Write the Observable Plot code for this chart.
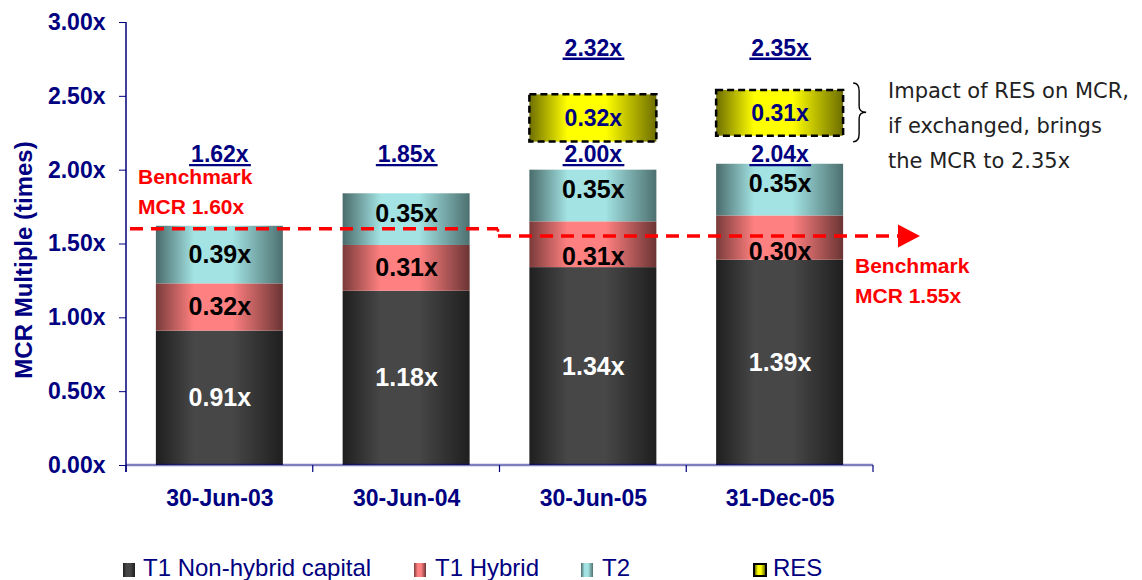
<!DOCTYPE html>
<html>
<head>
<meta charset="utf-8">
<script src="https://cdn.jsdelivr.net/npm/d3@7"></script>
<script src="https://cdn.jsdelivr.net/npm/@observablehq/plot@0.6"></script>
<style>
  html, body { margin: 0; padding: 0; background: #fff; }
  #wrap { position: relative; width: 1142px; height: 580px; overflow: hidden; font-family: "Liberation Sans", Arial, sans-serif; }
  #legend { position: absolute; left: 0; top: 545px; width: 1142px; height: 35px; }
  #legend .sw { position: absolute; top: 18px; height: 14px; box-sizing: border-box; }
  #legend .lab { position: absolute; top: 11px; font-size: 24px; line-height: 24px; color: #000080; white-space: nowrap; }
</style>
</head>
<body>
<div id="wrap"><div id="chart"></div><div id="legend"></div></div>
<script>
// Reporting dates and the capital components of the MCR multiple
const dates = ["30-Jun-03", "30-Jun-04", "30-Jun-05", "31-Dec-05"];
const series = ["T1 Non-hybrid capital", "T1 Hybrid", "T2"];
const t1NonHybrid = [0.91, 1.18, 1.34, 1.39];
const t1Hybrid = [0.32, 0.31, 0.31, 0.30];
const t2 = [0.39, 0.35, 0.35, 0.35];
const totals = [1.62, 1.85, 2.00, 2.04];

// RES (if exchanged) shown above the last two bars
const resLabel = "RES";
const resDates = ["30-Jun-05", "31-Dec-05"];
const res = [0.32, 0.31];
const resTotals = [2.32, 2.35];

// Benchmark MCR levels
const benchmarkEarly = 1.60;
const benchmarkLate = 1.55;

const yTicks = [0, 0.5, 1, 1.5, 2, 2.5, 3];
const yTitle = "MCR Multiple (times)";
const note = ["Impact of RES on MCR,", "if exchanged, brings", "the MCR to 2.35x"];

// ---- styling constants
const navy = "#000080";
const red = "#ff0000";
const font = '"Liberation Sans", Arial, sans-serif';
const resGap = 0.19;          // space between a bar and its RES box
const totalLabelY = 2.105;    // height of the total labels
const resTotalLabelY = 2.825; // height of the totals including RES
const fmt = v => v.toFixed(2) + "x";

const gradients = {
  "g-t1": ["#1f1f1f", "#474747", "#1f1f1f"],
  "g-hy": ["#7a3b3b", "#ff8080", "#6b3434"],
  "g-t2": ["#4a6b6b", "#a3e3e3", "#4d7070"],
  "g-res": ["#6e6e00", "#ffff00", "#6e6e00"]
};

// stacked segments
const values = [t1NonHybrid, t1Hybrid, t2];
const rows = [];
dates.forEach((d, i) => {
  let lo = 0;
  series.forEach((s, k) => {
    const v = values[k][i];
    rows.push({date: d, series: s, value: v, lo, hi: lo + v});
    lo += v;
  });
});
const stackTop = d => rows.filter(r => r.date === d).reduce((m, r) => Math.max(m, r.hi), 0);
const resRows = resDates.map((d, i) => {
  const lo = stackTop(d) + resGap;
  return {date: d, series: resLabel, value: res[i], lo, hi: lo + res[i], total: resTotals[i]};
});

// small pixel nudges keeping labels clear of the benchmark line
const nudge = r =>
  r.series === "T1 Hybrid" && r.date === "30-Jun-05" ? 12 :
  r.series === "T1 Hybrid" && r.date === "31-Dec-05" ? 14 :
  r.series === "T2" && r.date !== "30-Jun-03" ? -6 : 0;

const segmentLabels = (filter, fill) => {
  const groups = d3.group(rows.filter(filter), nudge);
  return [...groups].map(([dy, data]) => Plot.text(data, {
    x: "date", y: r => (r.lo + r.hi) / 2, text: r => fmt(r.value),
    dy, fill, fontSize: 25, fontWeight: "bold"
  }));
};

const chart = Plot.plot({
  width: 1142,
  height: 545,
  marginTop: 22,
  marginBottom: 80,
  marginLeft: 126,
  marginRight: 269,
  style: {fontFamily: font, background: "#fff", overflow: "visible"},
  x: {domain: dates, paddingInner: 0.32, paddingOuter: 0.16, round: false, label: null},
  y: {domain: [0, 3], label: null},
  color: {domain: [...series, resLabel], range: Object.keys(gradients).map(id => `url(#${id})`)},
  marks: [
    Plot.axisY({ticks: yTicks, tickFormat: fmt, tickSize: 7, tickPadding: 14, color: navy,
      fontSize: 23, fontWeight: "bold", label: null}),
    Plot.axisX({tickSize: 0, tickPadding: 24, color: navy, fontSize: 23, fontWeight: "bold", label: null}),
    Plot.text([yTitle], {frameAnchor: "left", textAnchor: "middle", rotate: -90, dx: -102, dy: 16,
      fill: navy, fontSize: 24, fontWeight: "bold"}),
    Plot.barY(rows, {x: "date", y1: "lo", y2: "hi", fill: "series", inset: 0}),
    Plot.barY(resRows, {x: "date", y1: "lo", y2: "hi", fill: "series", inset: 0,
      stroke: "#000", strokeWidth: 2.5, strokeDasharray: "7,4"}),
    ...segmentLabels(r => r.series === series[0], "#fff"),
    ...segmentLabels(r => r.series !== series[0], "#000"),
    Plot.text(resRows, {x: "date", y: r => (r.lo + r.hi) / 2, text: r => fmt(r.value),
      fill: navy, fontSize: 23, fontWeight: "bold"}),
    Plot.text(dates, {x: d => d, y: totalLabelY, text: (d, i) => fmt(totals[i]),
      fill: navy, fontSize: 23, fontWeight: "bold", ariaDescription: "total"}),
    Plot.text(resRows, {x: "date", y: resTotalLabelY, text: r => fmt(r.total),
      fill: navy, fontSize: 23, fontWeight: "bold", ariaDescription: "total"})
  ]
});
document.getElementById("chart").appendChild(chart);

// ---- gradients, axis lines, benchmark lines and notes
const svg = d3.select(chart);
const defs = svg.insert("defs", ":first-child");
for (const [id, [l, m, r]] of Object.entries(gradients)) {
  const g = defs.append("linearGradient").attr("id", id)
    .attr("x1", 0).attr("x2", 1).attr("y1", 0).attr("y2", 0);
  [[0, l], [0.3, m], [0.6, m], [1, r]].forEach(([o, c]) =>
    g.append("stop").attr("offset", o).attr("stop-color", c));
}

const xs = chart.scale("x"), ys = chart.scale("y");
const [xLeft, xRight] = xs.range;
const Y = v => ys.apply(v);
const y0 = Y(0);
const boundary = d => xs.apply(d) - xs.step * xs.paddingInner / 2;
const layer = svg.append("g").attr("font-family", font).attr("text-anchor", "start");

// underline the total labels
svg.selectAll('g[aria-description="total"] text').each(function () {
  const b = this.getBBox();
  const m = this.getCTM();
  const x = b.x + (m ? m.e : 0), y = b.y + (m ? m.f : 0);
  const base = y + b.height * 0.81;
  layer.append("line").attr("x1", x - 2).attr("x2", x + b.width + 2)
    .attr("y1", base + 3).attr("y2", base + 3).attr("stroke", navy).attr("stroke-width", 2.4);
});

// x baseline and category separators
layer.append("line").attr("x1", xLeft).attr("x2", xRight).attr("y1", y0).attr("y2", y0)
  .attr("stroke", navy).attr("stroke-opacity", 0.5).attr("stroke-width", 2.5);
[...dates.map(boundary), xRight].forEach(x =>
  layer.append("line").attr("x1", x).attr("x2", x).attr("y1", y0).attr("y2", y0 + 7)
    .attr("stroke", navy).attr("stroke-width", 1.2));
// y axis line
layer.append("line").attr("x1", xLeft).attr("x2", xLeft).attr("y1", Y(3)).attr("y2", y0 + 7)
  .attr("stroke", navy).attr("stroke-width", 1.5);

// benchmark lines: earlier level up to the 2005 results, later level beyond
const xBreak = boundary("30-Jun-05") - 1.5;
const yA = Y(benchmarkEarly), yB = Y(benchmarkLate);
const dashed = sel => sel.attr("stroke", red).attr("stroke-width", 3.5).attr("stroke-dasharray", "13,8").attr("fill", "none");
dashed(layer.append("line").attr("x1", xLeft + 4).attr("x2", xBreak).attr("y1", yA).attr("y2", yA));
dashed(layer.append("line").attr("x1", xBreak).attr("x2", xBreak).attr("y1", yA).attr("y2", yB)).attr("stroke-width", 2.5).attr("stroke-dasharray", "3,4");
const xArrow = xRight + 25;
dashed(layer.append("line").attr("x1", xBreak).attr("x2", xArrow).attr("y1", yB).attr("y2", yB));
layer.append("path").attr("d", `M${xArrow},${yB - 11.5}L${xArrow + 22},${yB}L${xArrow},${yB + 11.5}Z`).attr("fill", red);

const benchText = (x, y, lines) => lines.forEach((t, i) =>
  layer.append("text").attr("x", x).attr("y", y + i * 29.5).attr("fill", red)
    .attr("font-size", 21).attr("font-weight", "bold").text(t));
benchText(xLeft + 12, yA - 44.7, ["Benchmark", "MCR " + fmt(benchmarkEarly)]);
benchText(xRight - 18, yB + 37, ["Benchmark", "MCR " + fmt(benchmarkLate)]);

// brace beside the last RES box, with its note
const last = resRows[resRows.length - 1];
const bx = xs.apply(last.date) + xs.bandwidth + 10;
const bTop = Y(last.hi) - 7, bBot = Y(last.lo) + 6, bMid = (bTop + bBot) / 2;
layer.append("path").attr("fill", "none").attr("stroke", "#000").attr("stroke-width", 1.4)
  .attr("d", `M${bx},${bTop}Q${bx + 6},${bTop} ${bx + 6},${bTop + 8}L${bx + 6},${bMid - 6}` +
    `Q${bx + 6},${bMid} ${bx + 13},${bMid}Q${bx + 6},${bMid} ${bx + 6},${bMid + 6}` +
    `L${bx + 6},${bBot - 8}Q${bx + 6},${bBot} ${bx},${bBot}`);
note.forEach((t, i) =>
  layer.append("text").attr("x", xRight + 15).attr("y", Y(last.hi) + 8 + i * 35)
    .attr("font-family", '"DejaVu Sans", sans-serif').attr("font-size", 21).attr("fill", "#222").text(t));

// legend below the chart
const legend = d3.select("#legend");
const legendLeft = [123, 414, 581, 753];
const legendText = [143, 435, 602, 773];
[...series, resLabel].forEach((s, i) => {
  const [l, m, r] = Object.values(gradients)[i];
  legend.append("span").attr("class", "sw")
    .style("left", legendLeft[i] + "px").style("width", (i === 3 ? 14 : 12) + "px")
    .style("background", `linear-gradient(to right, ${l}, ${m} 30%, ${m} 60%, ${r})`)
    .style("border", i === 3 ? "2px solid #000" : "none");
  legend.append("span").attr("class", "lab").style("left", legendText[i] + "px").text(s);
});
</script>
</body>
</html>
